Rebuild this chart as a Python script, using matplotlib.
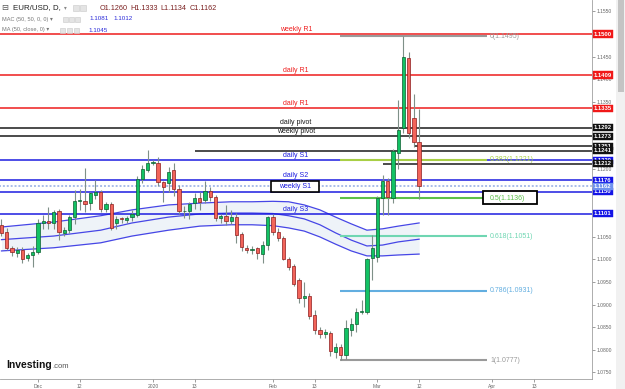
import numpy as np
import matplotlib
matplotlib.use('Agg')
import matplotlib.pyplot as plt
from matplotlib.patches import Rectangle

plt.rcParams['font.family'] = ['Liberation Sans', 'DejaVu Sans']

W, H = 625, 389

# daily candles, one per weekday from Thu 21 Nov 2019 to Thu 12 Mar 2020
opens = [1.1077, 1.1062, 1.1025, 1.1015, 1.1021, 1.1003, 1.1010, 1.1017, 1.1080, 1.1085,
         1.1080, 1.1108, 1.1059, 1.1065, 1.1095, 1.1130, 1.1130, 1.1125, 1.1143, 1.1150,
         1.1113, 1.1123, 1.1082, 1.1091, 1.1088, 1.1094, 1.1099, 1.1178, 1.1198, 1.1214,
         1.1213, 1.1172, 1.1169, 1.1198, 1.1156, 1.1107, 1.1107, 1.1126, 1.1136, 1.1132,
         1.1152, 1.1138, 1.1091, 1.1096, 1.1086, 1.1095, 1.1057, 1.1025, 1.1021, 1.1025,
         1.1012, 1.1032, 1.1095, 1.1062, 1.1047, 1.1001, 1.0986, 1.0955, 1.0914, 1.0919,
         1.0877, 1.0844, 1.0835, 1.0836, 1.0794, 1.0807, 1.0788, 1.0844, 1.0857, 1.0884,
         1.0884, 1.1003, 1.1005, 1.1136, 1.1173, 1.1136, 1.1237, 1.1291, 1.1446, 1.1313,
         1.1260]
highs = [1.1090, 1.1070, 1.1030, 1.1027, 1.1028, 1.1015, 1.1030, 1.1090, 1.1098, 1.1117,
         1.1110, 1.1112, 1.1072, 1.1098, 1.1154, 1.1156, 1.1202, 1.1150, 1.1176, 1.1155,
         1.1128, 1.1128, 1.1097, 1.1095, 1.1097, 1.1110, 1.1185, 1.1210, 1.1243, 1.1220,
         1.1228, 1.1175, 1.1206, 1.1215, 1.1165, 1.1118, 1.1127, 1.1148, 1.1150, 1.1173,
         1.1160, 1.1143, 1.1100, 1.1121, 1.1110, 1.1102, 1.1060, 1.1032, 1.1030, 1.1028,
         1.1040, 1.1097, 1.1100, 1.1070, 1.1052, 1.1005, 1.0990, 1.0960, 1.0951, 1.0925,
         1.0887, 1.0851, 1.0845, 1.0842, 1.0815, 1.0812, 1.0865, 1.0870, 1.0892, 1.0910,
         1.1004, 1.1054, 1.1140, 1.1187, 1.1180, 1.1245, 1.1354, 1.1496, 1.1461, 1.1367,
         1.1333]
lows = [1.1052, 1.1020, 1.1008, 1.1006, 1.0992, 1.0997, 1.0984, 1.1012, 1.1068, 1.1068,
        1.1068, 1.1043, 1.1052, 1.1058, 1.1078, 1.1110, 1.1105, 1.1110, 1.1135, 1.1105,
        1.1105, 1.1065, 1.1068, 1.1080, 1.1080, 1.1085, 1.1095, 1.1170, 1.1195, 1.1210,
        1.1162, 1.1128, 1.1150, 1.1140, 1.1100, 1.1092, 1.1090, 1.1112, 1.1110, 1.1125,
        1.1130, 1.1086, 1.1082, 1.1076, 1.1078, 1.1036, 1.1018, 1.1015, 1.1013, 1.1000,
        1.0992, 1.1020, 1.1055, 1.1040, 1.0998, 1.0976, 1.0942, 1.0903, 1.0895, 1.0868,
        1.0835, 1.0827, 1.0827, 1.0786, 1.0782, 1.0777, 1.0780, 1.0830, 1.0840, 1.0880,
        1.0880, 1.0955, 1.0995, 1.1099, 1.1099, 1.1126, 1.1200, 1.1280, 1.1270, 1.1250,
        1.1134]
closes = [1.1059, 1.1025, 1.1017, 1.1021, 1.1001, 1.1010, 1.1017, 1.1080, 1.1085, 1.1080,
          1.1105, 1.1062, 1.1065, 1.1095, 1.1130, 1.1131, 1.1123, 1.1147, 1.1150, 1.1113,
          1.1123, 1.1069, 1.1090, 1.1090, 1.1093, 1.1101, 1.1178, 1.1200, 1.1213, 1.1216,
          1.1172, 1.1161, 1.1195, 1.1156, 1.1107, 1.1108, 1.1122, 1.1136, 1.1128, 1.1152,
          1.1138, 1.1091, 1.1096, 1.1086, 1.1095, 1.1054, 1.1027, 1.1021, 1.1023, 1.1014,
          1.1032, 1.1095, 1.1062, 1.1047, 1.1001, 1.0983, 1.0946, 1.0914, 1.0919, 1.0875,
          1.0844, 1.0835, 1.0839, 1.0796, 1.0807, 1.0788, 1.0847, 1.0857, 1.0884, 1.0885,
          1.1000, 1.1025, 1.1136, 1.1173, 1.1138, 1.1241, 1.1287, 1.1450, 1.1280, 1.1261,
          1.1162]

# moving average channel at a few candles
ma_idx = [0, 10, 19, 25, 32, 38, 44, 48, 52, 55, 58, 61, 64, 67, 70, 73, 76, 80]
ma_upper = [1.1072, 1.1083, 1.1097, 1.1110, 1.1121, 1.1125, 1.1128, 1.1128, 1.1129, 1.1128,
            1.1121, 1.1110, 1.1094, 1.1079, 1.1065, 1.1068, 1.1074, 1.1081]
ma_mid = [1.1044, 1.1052, 1.1065, 1.1081, 1.1094, 1.1101, 1.1103, 1.1103, 1.1102, 1.1097,
          1.1090, 1.1077, 1.1059, 1.1043, 1.1030, 1.1032, 1.1039, 1.1045]
ma_lower = [1.1019, 1.1026, 1.1037, 1.1052, 1.1065, 1.1074, 1.1077, 1.1077, 1.1075, 1.1070,
            1.1063, 1.1050, 1.1034, 1.1019, 1.1008, 1.1008, 1.1010, 1.1012]

# pivot lines: price, label, colour kind, start candle
pivot_prices = [1.1500, 1.1409, 1.1335, 1.1292, 1.1273, 1.1251, 1.1241, 1.1220, 1.1212,
                1.1176, 1.1150, 1.1101]
pivot_names = ['weekly R1', 'daily R1', 'daily R1', 'daily pivot', 'weekly pivot', '', '',
               'daily S1', '', 'daily S2', 'weekly S1', 'daily S3']
pivot_kind = ['r', 'r', 'r', 'k', 'k', 'k', 'k', 'b', 'k', 'b', 'b', 'b']
pivot_start = [-1, -1, -1, -1, -1, 79, 37, -1, 73, -1, -1, -1]
last_price = 1.1162

# fibonacci retracement
fib_levels = ['0', '0.382', '0.5', '0.618', '0.786', '1']
fib_prices = [1.1495, 1.1221, 1.1136, 1.1051, 1.0931, 1.0777]
fib_colors = ['#9a9a9a', '#a8cf45', '#5cc04a', '#6fd6b2', '#62aee0', '#9a9a9a']

date_idx = [7, 15, 29, 37, 52, 60, 72, 80, 94, 102]
date_lbl = ['Dec', '12', '2020', '13', 'Feb', '13', 'Mar', '12', 'Apr', '13']

# right-axis ticks; the ones hidden under price boxes get no text
ytick_vals = [1.0750, 1.0800, 1.0850, 1.0900, 1.0950, 1.1000, 1.1050, 1.1100, 1.1150,
              1.1200, 1.1250, 1.1300, 1.1350, 1.1400, 1.1450, 1.1500, 1.1550]
ytick_txt = ['1.0750', '1.0800', '1.0850', '1.0900', '1.0950', '1.1000', '1.1050', '', '',
             '1.1200', '', '', '1.1350', '1.1400', '1.1450', '', '1.1550']

kind_col = {'r': '#ee1c1c', 'k': '#1a1a1a', 'b': '#1c1ce0'}

fig = plt.figure(figsize=(W / 100, H / 100), dpi=100)
ax = fig.add_axes([0, 10 / H, 592 / W, 379 / H])
ax.set_xlim(-0.287, 113.12)
ax.set_ylim(1.07350, 1.15754)

# MA channel
ax.fill_between(ma_idx, ma_lower, ma_upper, color='#eef3f8', zorder=1, lw=0)
for ser in (ma_upper, ma_mid, ma_lower):
    ax.plot(ma_idx, ser, color='#4646e6', lw=0.9, zorder=1.5)

# pivot lines and their labels
for p, name, k, s in zip(pivot_prices, pivot_names, pivot_kind, pivot_start):
    ax.hlines(p, s, 120, color=kind_col[k], lw=1.1, zorder=2)
    if name and name != 'weekly S1':
        ax.annotate(name, (56.4, p), xytext=(0, 1), textcoords='offset points',
                    ha='center', va='bottom', fontsize=5, color=kind_col[k], zorder=5)
ax.hlines(last_price, -1, 120, color='#a9bde9', lw=1.4, linestyles=(0, (1, 1)), zorder=2)

# boxed weekly S1 label
ax.add_patch(Rectangle((51.6, 1.11497), 9.2, 0.00244, fc='white', ec='black', lw=1.2, zorder=4))
ax.text(56.2, 1.11619, 'weekly S1', ha='center', va='center', fontsize=5, color='#1c1ce0', zorder=5)

# fib lines
for lv, p, col in zip(fib_levels, fib_prices, fib_colors):
    ax.hlines(p, 64.9, 93.0, color=col, lw=1.5, zorder=2)
    if lv == '0.5':
        ax.add_patch(Rectangle((92.2, 1.1123), 10.4, 0.00288, fc='white', ec='black', lw=1.3, zorder=4))
    ax.text(93.6, p, f'{lv}({p:.4f})', ha='left', va='center', fontsize=5, color=col, zorder=5)

# candles
o = np.array(opens); c = np.array(closes)
hi = np.array(highs); lo = np.array(lows)
idx = np.arange(len(o))
up = c >= o
ax.vlines(idx, lo, hi, color='#7f9088', lw=0.8, zorder=3)
body = np.maximum(np.abs(c - o), 0.00008)
ax.bar(idx[up], body[up], bottom=o[up], width=0.62, color='#12c264', edgecolor='#0d5e30', lw=0.5, zorder=3.5)
ax.bar(idx[~up], body[~up], bottom=c[~up], width=0.62, color='#f2645a', edgecolor='#8e1d1d', lw=0.5, zorder=3.5)

# axes styling
ax.yaxis.tick_right()
ax.set_yticks(ytick_vals)
ax.set_yticklabels(ytick_txt)
ax.set_xticks(date_idx)
ax.set_xticklabels(date_lbl)
ax.tick_params(axis='both', labelsize=3.6, colors='#777', length=2, width=0.5, pad=1.5)
ax.tick_params(axis='x', labelcolor='#666')
ax.tick_params(axis='y', labelcolor='#666')
for sp in ('left', 'top'):
    ax.spines[sp].set_visible(False)
for sp in ('right', 'bottom'):
    ax.spines[sp].set_color('#a0a0a0')
    ax.spines[sp].set_linewidth(0.6)

# price boxes on the right axis
box_prices = [1.1500, 1.1409, 1.1335, 1.1292, 1.1273, 1.1251, 1.1241, 1.1220, 1.1212,
              1.1176, 1.1150, 1.1101, 1.1162]
box_kind = ['r', 'r', 'r', 'k', 'k', 'k', 'k', 'b', 'k', 'b', 'b', 'b', 'l']
box_fc = {'r': '#f01818', 'k': '#111111', 'b': '#1414e6', 'l': '#6f92ee'}
for p, k in zip(box_prices, box_kind):
    ax.annotate(f'{p:.4f}', (1.0, p), xycoords=('axes fraction', 'data'), xytext=(1.5, 0),
                textcoords='offset points', ha='left', va='center', fontsize=4.2,
                fontweight='bold', color='white', annotation_clip=False, zorder=6,
                bbox=dict(boxstyle='square,pad=0.18', fc=box_fc[k], ec=box_fc[k], lw=0.3))

# header
fx = lambda x: x / W
fy = lambda y: 1 - y / H
fig.text(fx(1.5), fy(8), '\u229f', fontsize=6, color='#555', va='center', ha='left')
fig.text(fx(13), fy(8), 'EUR/USD, D,', fontsize=5.7, color='#222', va='center', ha='left')
fig.text(fx(64), fy(8), '\u25be', fontsize=4, color='#888', va='center', ha='left')
for xb in (73, 80):
    fig.patches.append(Rectangle((fx(xb), fy(11)), 6 / W, 6 / H, transform=fig.transFigure,
                                 fc='#e4e4e4', ec='#c8c8c8', lw=0.4))
for xt, t in zip((100, 130, 160, 190), ('O1.1260', 'H1.1333', 'L1.1134', 'C1.1162')):
    fig.text(fx(xt), fy(8), t, fontsize=5.2, color='#7a1f1f', va='center', ha='left')

fig.text(fx(2), fy(19), 'MAC (50, 50, 0, 0) \u25be', fontsize=4.1, color='#777', va='center', ha='left')
for xb in (63, 69, 75):
    fig.patches.append(Rectangle((fx(xb), fy(22)), 5 / W, 5 / H, transform=fig.transFigure,
                                 fc='#e4e4e4', ec='#c8c8c8', lw=0.4))
fig.text(fx(89), fy(19), '1.1081', fontsize=4.5, color='#2b2bd9', va='center', ha='left')
fig.text(fx(113), fy(19), '1.1012', fontsize=4.5, color='#2b2bd9', va='center', ha='left')

fig.text(fx(2), fy(30), 'MA (50, close, 0) \u25be', fontsize=4.1, color='#777', va='center', ha='left')
for xb in (60, 67, 74):
    fig.patches.append(Rectangle((fx(xb), fy(33)), 5 / W, 5 / H, transform=fig.transFigure,
                                 fc='#e4e4e4', ec='#c8c8c8', lw=0.4))
fig.text(fx(88), fy(30), '1.1045', fontsize=4.5, color='#2b2bd9', va='center', ha='left')

# watermark
fig.text(fx(6), fy(365), 'Investing', fontsize=7.5, fontweight='bold', color='#111', va='center', ha='left')
fig.text(fx(52), fy(366), '.com', fontsize=5.5, color='#555', va='center', ha='left')

# scrollbar strip
fig.patches.append(Rectangle((fx(616), 0), 9 / W, 1, transform=fig.transFigure, fc='#f1f1f1', lw=0))
fig.patches.append(Rectangle((fx(618), fy(92)), 6 / W, 92 / H, transform=fig.transFigure, fc='#c4c4c4', lw=0))

fig.savefig('out.png', dpi=100)
